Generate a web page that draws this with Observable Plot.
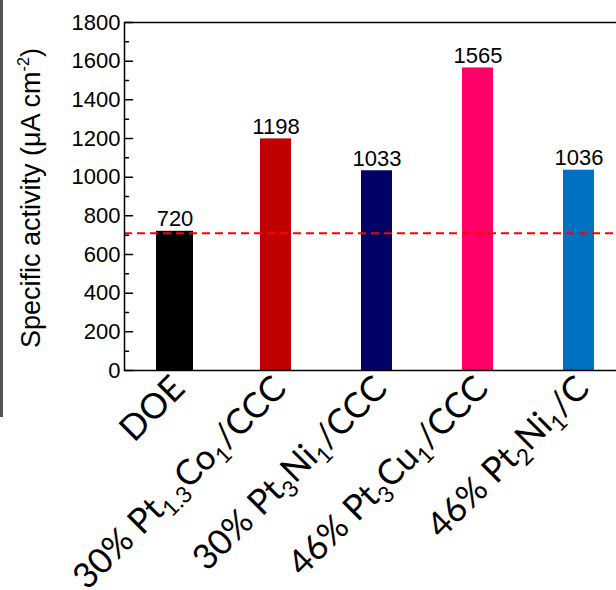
<!DOCTYPE html>
<html><head><meta charset="utf-8">
<script src="https://cdn.jsdelivr.net/npm/d3@7"></script>
<script src="https://cdn.jsdelivr.net/npm/@observablehq/plot@0.6"></script>
<style>
body{margin:0;background:#fff;overflow:hidden;}
#wrap{position:relative;width:616px;height:590px;overflow:hidden;}
#edge{position:absolute;left:0;top:0;width:3px;height:417px;background:#555;z-index:2;}
#wrap svg{max-width:none;}
</style></head><body><div id="wrap"><div id="edge"></div></div>
<script>
const categories = ["DOE", "30% Pt1.3Co1/CCC", "30% Pt3Ni1/CCC", "46% Pt3Cu1/CCC", "46% Pt2Ni1/C"];
const values = [720, 1198, 1033, 1565, 1036];
const barColors = ["#000000", "#C00000", "#000066", "#FF0066", "#0070C0"];
const doeTarget = 710;
const yTicks = [0, 200, 400, 600, 800, 1000, 1200, 1400, 1600, 1800];
const yMinorTicks = [100, 300, 500, 700, 900, 1100, 1300, 1500, 1700];
const yLabelMain = "Specific activity (μA cm";
const yLabelSup = "-2";
const yLabelEnd = ")";

const data = categories.map((c, i) => ({category: c, value: values[i], color: barColors[i]}));

const tickShape = {draw(context, l) { context.moveTo(0, 0); context.lineTo(0, -l); }};

const plot = Plot.plot({
  width: 616, height: 590,
  marginLeft: 124, marginRight: -13, marginTop: 22, marginBottom: 220,
  style: {fontFamily: "'Liberation Sans', Arial, sans-serif", background: "white", overflow: "hidden"},
  x: {domain: categories, padding: 0, label: null},
  y: {domain: [0, 1800], label: null},
  marks: [
    Plot.rectY(data.filter(d => d.category !== "DOE"), {x: "category", y: "value", fill: "color", insetLeft: 35, insetRight: 35}),
    Plot.rectY(data.filter(d => d.category === "DOE"), {x: "category", y: "value", fill: "color", insetLeft: 32, insetRight: 32}),
    Plot.ruleY([doeTarget], {stroke: "#FF0000", strokeWidth: 2, strokeDasharray: "8,5"}),
    Plot.text(data, {x: "category", y: "value", text: d => String(d.value), dy: -5, lineAnchor: "bottom", fontSize: 22, fill: "black"}),
    Plot.frame({stroke: "black", strokeWidth: 1.5}),
    Plot.axisY({ticks: yTicks, tickSize: 0, tickPadding: 4, fontSize: 22, label: null, tickFormat: d => String(d)}),
    Plot.vector(yTicks, {y: d => d, frameAnchor: "left", length: 8, rotate: 90, anchor: "start", shape: tickShape, stroke: "black", strokeWidth: 1.5}),
    Plot.vector(yMinorTicks, {y: d => d, frameAnchor: "left", length: 4, rotate: 90, anchor: "start", shape: tickShape, stroke: "black", strokeWidth: 1.5}),
    Plot.axisX({tickSize: 0, tickRotate: -45, fontSize: 35, fontFamily: "Lato, 'Open Sans', sans-serif", tickPadding: 6, dx: 4, dy: 6, label: null, tickFormat: d => d})
  ]
});

document.getElementById("wrap").appendChild(plot);

const svg = d3.select(plot);
// subscripts in x tick labels
svg.selectAll('g[aria-label="x-axis tick label"] text').each(function () {
  const t = this.textContent;
  const sel = d3.select(this);
  sel.text(null);
  const re = /([A-Za-z])(\d+(?:\.\d+)?)/g;
  let last = 0, m, shifted = false;
  const shift = 8;
  while ((m = re.exec(t)) !== null) {
    const normalEnd = m.index + 1;
    const n = sel.append("tspan").text(t.slice(last, normalEnd));
    if (shifted) n.attr("dy", -shift);
    sel.append("tspan").attr("font-size", "0.65em").attr("dy", shift).text(m[2]);
    shifted = true;
    last = re.lastIndex;
  }
  if (last < t.length) {
    const n = sel.append("tspan").text(t.slice(last));
    if (shifted) n.attr("dy", -shift);
  }
});

// y-axis title
const yl = svg.append("text")
  .attr("transform", "translate(40,198) rotate(-90)")
  .attr("text-anchor", "middle")
  .attr("font-size", 27)
  .attr("font-family", "'Liberation Sans', Arial, sans-serif")
  .attr("fill", "black");
yl.append("tspan").text(yLabelMain);
yl.append("tspan").attr("font-size", "0.6em").attr("dy", -11).text(yLabelSup);
yl.append("tspan").attr("dy", 11).text(yLabelEnd);
</script></body></html>
